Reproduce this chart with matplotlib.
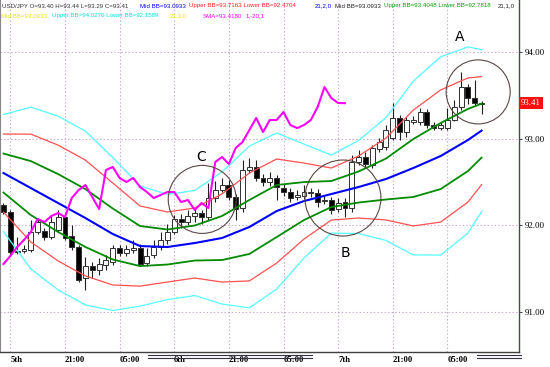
import matplotlib
matplotlib.use('Agg')
import matplotlib.pyplot as plt
from matplotlib.patches import Ellipse, Rectangle
from matplotlib.lines import Line2D

# ---------------- data ----------------
opens = [92.235, 92.155, 91.693, 91.705, 91.716, 91.924, 91.935, 91.866, 91.947, 92.097,
         91.878, 91.751, 91.393, 91.532, 91.486, 91.543, 91.578, 91.739, 91.682, 91.716,
         91.739, 91.566, 91.659, 91.751, 91.832, 91.924, 92.074, 92.039, 92.108, 92.143,
         92.097, 92.316, 92.408, 92.466, 92.328, 92.201, 92.639, 92.674, 92.547, 92.501,
         92.547, 92.431, 92.385, 92.328, 92.339, 92.374, 92.374, 92.281, 92.293, 92.189,
         92.270, 92.201, 92.731, 92.789, 92.697, 92.881, 92.904, 93.008, 93.239, 93.077,
         93.193, 93.193, 93.308, 93.158, 93.123, 93.123, 93.216, 93.366, 93.596, 93.469,
         93.40]
closes = [92.155, 91.693, 91.705, 91.728, 91.924, 92.039, 91.866, 92.039, 92.097, 91.855,
          91.751, 91.370, 91.532, 91.486, 91.555, 91.601, 91.739, 91.682, 91.728, 91.739,
          91.555, 91.647, 91.751, 91.832, 91.924, 92.074, 92.039, 92.108, 92.143, 92.097,
          92.316, 92.408, 92.466, 92.328, 92.189, 92.639, 92.674, 92.547, 92.501, 92.547,
          92.443, 92.385, 92.316, 92.351, 92.385, 92.385, 92.270, 92.293, 92.178, 92.258,
          92.201, 92.731, 92.789, 92.708, 92.893, 92.962, 93.100, 93.239, 93.077, 93.216,
          93.216, 93.308, 93.158, 93.123, 93.158, 93.216, 93.366, 93.596, 93.469, 93.412,
          93.41]
highs = [92.258, 92.178, 91.866, 91.774, 92.062, 92.085, 91.970, 92.108, 92.178, 92.131,
         92.005, 91.774, 91.636, 91.578, 91.624, 91.659, 91.774, 91.774, 91.774, 91.832,
         91.785, 91.739, 91.832, 91.924, 92.016, 92.120, 92.131, 92.178, 92.212, 92.178,
         92.489, 92.512, 92.547, 92.524, 92.362, 92.754, 92.777, 92.754, 92.593, 92.616,
         92.581, 92.478, 92.431, 92.408, 92.466, 92.431, 92.420, 92.339, 92.328, 92.316,
         92.316, 92.812, 92.870, 92.847, 92.927, 93.008, 93.158, 93.412, 93.273, 93.250,
         93.262, 93.354, 93.343, 93.193, 93.193, 93.354, 93.446, 93.769, 93.631, 93.677,
         93.44]
lows = [92.131, 91.670, 91.670, 91.682, 91.693, 91.901, 91.832, 91.843, 91.924, 91.832,
        91.716, 91.347, 91.255, 91.393, 91.428, 91.486, 91.543, 91.647, 91.647, 91.682,
        91.532, 91.532, 91.624, 91.716, 91.785, 91.901, 91.970, 92.005, 92.039, 92.016,
        92.062, 92.270, 92.385, 92.293, 92.062, 92.155, 92.604, 92.512, 92.454, 92.454,
        92.293, 92.339, 92.270, 92.293, 92.304, 92.328, 92.212, 92.247, 92.131, 92.155,
        92.097, 92.155, 92.697, 92.662, 92.662, 92.847, 92.870, 92.985, 92.985, 93.020,
        93.170, 93.158, 93.123, 93.100, 93.100, 93.100, 93.204, 93.331, 93.400, 93.389,
        93.29]

band_bars = [0, 4, 8, 12, 16, 20, 24, 28, 32, 36, 40, 44, 48, 52, 56, 60, 64, 68, 70]
mid_bb = [92.604, 92.431, 92.258, 92.085, 91.901, 91.762, 91.751, 91.797, 91.855, 91.982,
          92.166, 92.281, 92.362, 92.443, 92.535, 92.662, 92.800, 92.985, 93.0933]
bb_sd = [0.225, 0.311, 0.334, 0.334, 0.294, 0.231, 0.202, 0.202, 0.254, 0.311,
         0.300, 0.219, 0.150, 0.179, 0.236, 0.334, 0.381, 0.358, 0.3115]
lag_shift = 20

time_labels = ['5th', '21:00', '05:00', '6th', '21:00', '05:00', '7th', '21:00', '05:00']
time_bars = [1, 9, 17, 25, 33, 41, 49, 57, 65]
price_ticks = [91.0, 92.0, 93.0, 94.0]
last_price = 93.41

annot_text = ['A', 'B', 'C']
annot_bar = [66.8, 50.0, 28.9]
annot_price = [94.17, 91.68, 92.79]
circle_bar = [69.5, 49.7, 29.1]
circle_price = [93.54, 92.316, 92.30]
circle_rpx = [32, 38, 34]

# ---------------- figure ----------------
W, H = 550, 367
fig = plt.figure(figsize=(W / 100, H / 100), dpi=100)
fig.patch.set_facecolor('white')
ax = fig.add_axes([0, 15 / H, 519 / W, 352 / H])
ax.set_facecolor('white')
ax.set_xlim(-0.512, 75.48)
ax.set_ylim(90.540, 94.600)

px_per_bar = 519 / (75.48 + 0.512)
px_per_price = 352 / (94.600 - 90.540)

grid_kw = dict(color='#c8a8cc', linestyle=(0, (1.2, 2.0)), linewidth=0.8, zorder=0)
for b in time_bars:
    ax.axvline(b, **grid_kw)
for p in price_ticks:
    ax.axhline(p, **grid_kw)

# candles
for i in range(len(opens)):
    o, c, h, l = opens[i], closes[i], highs[i], lows[i]
    ax.plot([i, i], [l, h], color='#202020', lw=0.8, zorder=2, solid_capstyle='butt')
    lo, hi = min(o, c), max(o, c)
    hgt = max(hi - lo, 0.012)
    fc = 'black' if c < o else 'white'
    ax.add_patch(Rectangle((i - 0.36, lo), 0.72, hgt, facecolor=fc,
                           edgecolor='#303030', lw=0.7, zorder=3))

# Bollinger bands
def band(k):
    return [m + k * s for m, s in zip(mid_bb, bb_sd)]

ax.plot(band_bars, band(3), color='#55ffff', lw=0.9, zorder=4)
ax.plot(band_bars, band(-3), color='#55ffff', lw=0.9, zorder=4)
ax.plot(band_bars, band(2), color='#ff5050', lw=0.9, zorder=4)
ax.plot(band_bars, band(-2), color='#ff5050', lw=0.9, zorder=4)
ax.plot(band_bars, band(1), color='#008a00', lw=1.3, zorder=4)
ax.plot(band_bars, band(-1), color='#008a00', lw=1.3, zorder=4)
ax.plot(band_bars, mid_bb, color='#0000ff', lw=1.5, zorder=5)

# lagging close (SMA 1, shift -20)
lag = closes[lag_shift:]
ax.plot(list(range(len(lag))), lag, color='#ff00ff', lw=1.5, zorder=5)

# circles and letters
for cb, cp, r in zip(circle_bar, circle_price, circle_rpx):
    ax.add_patch(Ellipse((cb, cp), 2 * r / px_per_bar, 2 * r / px_per_price,
                         fill=False, edgecolor='#5a4646', lw=0.8, zorder=6))
for t, b, p in zip(annot_text, annot_bar, annot_price):
    ax.text(b, p, t, fontsize=10, ha='center', va='center', color='black',
            family='DejaVu Sans', zorder=7)

# axes styling
ax.spines['top'].set_visible(False)
ax.spines['left'].set_color('#888888')
ax.spines['right'].set_color('#405040')
ax.spines['bottom'].set_color('#404040')
ax.spines['right'].set_linewidth(1.0)
ax.spines['bottom'].set_linewidth(1.0)

ax.yaxis.tick_right()
ax.set_yticks(price_ticks)
ax.set_yticklabels([f'{p:.2f}' for p in price_ticks], fontsize=6.5,
                   family='Liberation Serif', color='black')
ax.tick_params(axis='y', length=2, pad=2, color='#405040')
ax.set_xticks(time_bars)
ax.set_xticklabels(time_labels, fontsize=6.2, family='Liberation Serif',
                   fontweight='bold', ha='left')
ax.tick_params(axis='x', length=0, pad=3)

# current price tag
ax.text(1.004, last_price, f'{last_price:.2f}', transform=ax.get_yaxis_transform(),
        ha='left', va='center', fontsize=6.3, family='Liberation Serif', color='white',
        bbox=dict(boxstyle='square,pad=0.25', facecolor='#ff1010', edgecolor='none'),
        zorder=8)

# header (segments laid out left to right, never overlapping)
hdr1 = [("USD/JPY O=93.40 H=93.44 L=93.29 C=93.41", 2, '#303030'),
        ("Mid BB=93.0933", 140, '#0000ff'),
        ("Upper BB=93.7163 Lower BB=92.4704", 189, '#ff2020'),
        ("21,2,0", 315, '#0000ff'),
        ("Mid BB=93.0933", 331, '#202020'),
        ("Upper BB=93.4048 Lower BB=92.7818", 381, '#00a000'),
        ("21,1,0", 498, '#202020')]
hdr2 = [("Mid BB=93.0933", 1, '#e6e600'),
        ("Upper BB=94.0276 Lower BB=92.1589", 52, '#00e0e0'),
        ("21,3,0", 170, '#e6e600'),
        ("SMA=93.4180", 203, '#ff00ff'),
        ("1,-20,1", 242, '#ff00ff')]
renderer = fig.canvas.get_renderer()
for segs, yy in [(hdr1, 6), (hdr2, 16)]:
    prev_end = -10
    for txt, x, col in segs:
        xs = max(x, prev_end + 3)
        t = fig.text(xs / W, 1 - yy / H, txt, fontsize=4.4, family='Liberation Sans',
                     color=col, ha='left', va='center')
        prev_end = t.get_window_extent(renderer).x1

# decorative double bars under the time axis
for x0, x1 in [(148, 312), (477, 521)]:
    for yy in (355, 357.5):
        fig.add_artist(Line2D([x0 / W, x1 / W], [1 - yy / H, 1 - yy / H],
                              color='#333344', lw=0.8))

fig.savefig('out.png', dpi=100, facecolor='white')
